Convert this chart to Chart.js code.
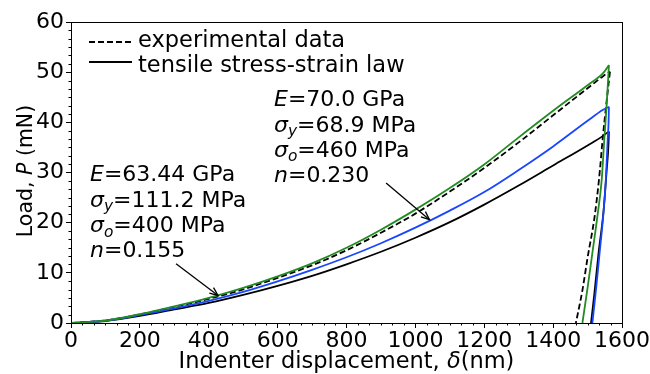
<!DOCTYPE html>
<html>
<head>
<meta charset="utf-8">
<script src="https://cdn.jsdelivr.net/npm/chart.js@4/dist/chart.umd.min.js"></script>
<style>
  html, body { margin: 0; padding: 0; background: #fff; }
  #wrap { width: 650px; height: 374px; position: relative; }
</style>
</head>
<body>
<div id="wrap"><canvas id="c" width="650" height="374"></canvas></div>
<script>
// ---- data ----
const loadDisp      = [0, 100, 200, 300, 400, 500, 600, 700, 800, 900, 1000, 1100, 1200, 1300, 1400, 1500, 1545];
const expLoad       = [0, 0.5, 1.7, 3.2, 4.8, 6.7, 9.0, 11.5, 14.5, 18.0, 21.8, 26.2, 30.9, 36.0, 41.4, 46.8, 49.2];
const greenLoad     = [0, 0.5, 1.75, 3.3, 5.0, 7.0, 9.3, 11.9, 15.0, 18.6, 22.6, 26.9, 31.6, 37.0, 42.3, 47.4, 49.8];
const blueLoad      = [0, 0.45, 1.6, 2.9, 4.4, 6.2, 8.3, 10.6, 13.1, 15.9, 19.0, 22.4, 26.1, 30.5, 35.2, 40.3, 42.5];
const blackLoad     = [0, 0.4, 1.4, 2.7, 4.0, 5.6, 7.4, 9.4, 11.7, 14.2, 17.0, 20.1, 23.6, 27.4, 31.4, 35.4, 37.3];

const expPeak   = [1565, 50.1];
const greenPeak = [1562, 51.4];
const bluePeak  = [1562, 43.1];
const blackPeak = [1562, 38.2];

const expUnloadDisp   = [1565, 1555, 1545, 1533, 1520, 1500, 1485, 1466];
const expUnload       = [50.1, 44.0, 37.5, 28.5, 21.0, 13.0, 6.5, 0];
const greenUnloadDisp = [1562, 1555, 1548, 1541, 1528, 1514, 1500, 1485];
const greenUnload     = [51.4, 43.0, 36.0, 28.5, 21.0, 14.0, 7.0, 0];
const blueUnloadDisp  = [1562, 1561, 1558, 1553, 1545, 1535, 1525, 1514];
const blueUnload      = [43.1, 40.0, 36.0, 28.5, 21.0, 14.0, 7.0, 0];
const blackUnloadDisp = [1562, 1561, 1555, 1546, 1532, 1520, 1510];
const blackUnload     = [38.2, 36.0, 30.0, 22.0, 14.0, 6.0, 0];

const xTicks = [0, 200, 400, 600, 800, 1000, 1200, 1400, 1600];
const yTicks = [0, 10, 20, 30, 40, 50, 60];

const legendLabels = ['experimental data', 'tensile stress-strain law'];
const annotation1 = [
  [['E', 1], ['=63.44 GPa', 0]],
  [['σ', 1], ['y', 2], ['=111.2 MPa', 0]],
  [['σ', 1], ['o', 2], ['=400 MPa', 0]],
  [['n', 1], ['=0.155', 0]]
];
const annotation2 = [
  [['E', 1], ['=70.0 GPa', 0]],
  [['σ', 1], ['y', 2], ['=68.9 MPa', 0]],
  [['σ', 1], ['o', 2], ['=460 MPa', 0]],
  [['n', 1], ['=0.230', 0]]
];
// arrow start/end in data units [disp, load]
const arrow1 = [[305, 11.8], [427, 5.5]];
const arrow2 = [[915, 27.9], [1041, 20.6]];

// ---- build datasets ----
function pts(xs, ys) { return xs.map((x, i) => ({ x: x, y: ys[i] })); }
const GREEN = '#228b22';
const BLUE = '#1846ff';
const FONT = "'DejaVu Sans', sans-serif";
const FS = 22;

function series(label, xs, ys, peak, uxs, uys, color, dash) {
  const common = { borderColor: color, borderWidth: 1.8, pointRadius: 0, fill: false, showLine: true,
                   cubicInterpolationMode: 'monotone', borderDash: dash || [] };
  return [
    Object.assign({ label: label + ' loading', data: pts(xs, ys).concat([{ x: peak[0], y: peak[1] }]) }, common),
    Object.assign({ label: label + ' unloading', data: pts(uxs, uys) }, common)
  ];
}

const datasets = [].concat(
  series('green', loadDisp, greenLoad, greenPeak, greenUnloadDisp, greenUnload, GREEN),
  series('blue', loadDisp, blueLoad, bluePeak, blueUnloadDisp, blueUnload, BLUE),
  series('black', loadDisp, blackLoad, blackPeak, blackUnloadDisp, blackUnload, '#000'),
  series('exp', loadDisp, expLoad, expPeak, expUnloadDisp, expUnload, '#000', [6, 3])
);

function drawRich(ctx, x, y, segs, size) {
  let cx = x;
  segs.forEach(([t, style]) => {
    const it = style >= 1;
    const sub = style === 2;
    const fs = sub ? size * 0.7 : size;
    ctx.font = (it ? 'italic ' : '') + fs + 'px ' + FONT;
    ctx.fillText(t, cx, sub ? y + size * 0.22 : y);
    cx += ctx.measureText(t).width;
  });
  return cx - x;
}
function richWidth(ctx, segs, size) {
  let w = 0;
  segs.forEach(([t, style]) => {
    const fs = style === 2 ? size * 0.7 : size;
    ctx.font = (style >= 1 ? 'italic ' : '') + fs + 'px ' + FONT;
    w += ctx.measureText(t).width;
  });
  return w;
}

const overlay = {
  id: 'overlay',
  afterDraw(chart) {
    const ctx = chart.ctx;
    const a = chart.chartArea;
    const xs = chart.scales.x, ys = chart.scales.y;
    ctx.save();
    // frame
    ctx.strokeStyle = '#000';
    ctx.lineWidth = 1;
    ctx.strokeRect(Math.round(a.left) + 0.5, Math.round(a.top) + 0.5, Math.round(a.right - a.left), Math.round(a.bottom - a.top));
    // minor ticks
    ctx.beginPath();
    for (let i = 0; i < xTicks.length - 1; i++) {
      for (let k = 1; k < 6; k++) {
        const v = xTicks[i] + (xTicks[i + 1] - xTicks[i]) * k / 6;
        const px = Math.round(xs.getPixelForValue(v)) + 0.5;
        ctx.moveTo(px, a.bottom); ctx.lineTo(px, a.bottom + 2.5);
      }
    }
    for (let i = 0; i < yTicks.length - 1; i++) {
      for (let k = 1; k < 6; k++) {
        const v = yTicks[i] + (yTicks[i + 1] - yTicks[i]) * k / 6;
        const py = Math.round(ys.getPixelForValue(v)) + 0.5;
        ctx.moveTo(a.left, py); ctx.lineTo(a.left - 2.5, py);
      }
    }
    ctx.stroke();

    ctx.fillStyle = '#000';
    ctx.textBaseline = 'alphabetic';
    ctx.textAlign = 'left';
    // legend
    ctx.lineWidth = 1.8;
    ctx.setLineDash([6, 3]);
    ctx.beginPath(); ctx.moveTo(89, 42); ctx.lineTo(132, 42); ctx.stroke();
    ctx.setLineDash([]);
    ctx.beginPath(); ctx.moveTo(89, 62); ctx.lineTo(132, 62); ctx.stroke();
    ctx.font = '22.5px ' + FONT;
    ctx.fillText(legendLabels[0], 138, 47);
    ctx.fillText(legendLabels[1], 138, 71.5);

    // annotations
    const base1 = [181, 206.5, 232, 257];
    annotation1.forEach((segs, i) => drawRich(ctx, 90, base1[i], segs, FS));
    const base2 = [106, 131.5, 156.5, 181.5];
    annotation2.forEach((segs, i) => drawRich(ctx, 274, base2[i], segs, FS));

    // arrows
    function arrow(p0, p1) {
      const x0 = xs.getPixelForValue(p0[0]), y0 = ys.getPixelForValue(p0[1]);
      const x1 = xs.getPixelForValue(p1[0]), y1 = ys.getPixelForValue(p1[1]);
      ctx.lineWidth = 1.3;
      ctx.beginPath(); ctx.moveTo(x0, y0); ctx.lineTo(x1, y1); ctx.stroke();
      const ang = Math.atan2(y1 - y0, x1 - x0);
      const L = 9, w = 0.4;
      ctx.beginPath();
      ctx.moveTo(x1 - L * Math.cos(ang - w), y1 - L * Math.sin(ang - w));
      ctx.lineTo(x1, y1);
      ctx.lineTo(x1 - L * Math.cos(ang + w), y1 - L * Math.sin(ang + w));
      ctx.stroke();
    }
    arrow(arrow1[0], arrow1[1]);
    arrow(arrow2[0], arrow2[1]);

    // axis titles
    const xt = [['Indenter displacement, ', 0], ['δ', 1], ['(nm)', 0]];
    const wx = richWidth(ctx, xt, 22.5);
    drawRich(ctx, (a.left + a.right) / 2 - wx / 2, 368, xt, 22.5);
    const yt = [['Load, ', 0], ['P', 1], [' (mN)', 0]];
    const wy = richWidth(ctx, yt, 20.5);
    ctx.translate(32, 171);
    ctx.rotate(-Math.PI / 2);
    drawRich(ctx, -wy / 2, 0, yt, 20.5);
    ctx.restore();
  }
};

new Chart(document.getElementById('c'), {
  type: 'line',
  data: { datasets: datasets },
  options: {
    responsive: false,
    animation: false,
    devicePixelRatio: 1,
    layout: { padding: { left: 0, top: 22, right: 27, bottom: 0 } },
    plugins: { legend: { display: false }, tooltip: { enabled: false } },
    scales: {
      x: {
        type: 'linear', min: 0, max: 1600,
        afterBuildTicks: s => { s.ticks = xTicks.map(v => ({ value: v })); },
        afterFit: s => { s.height = 51; },
        grid: { drawOnChartArea: false, drawTicks: true, tickLength: 5, color: '#000', tickWidth: 1 },
        border: { display: true, color: '#000', width: 1 },
        ticks: { color: '#000', font: { family: FONT, size: FS }, padding: 0, maxRotation: 0, autoSkip: false,
                 callback: v => String(v) }
      },
      y: {
        type: 'linear', min: 0, max: 60,
        afterBuildTicks: s => { s.ticks = yTicks.map(v => ({ value: v })); },
        afterFit: s => { s.width = 71; },
        grid: { drawOnChartArea: false, drawTicks: true, tickLength: 5, color: '#000', tickWidth: 1 },
        border: { display: true, color: '#000', width: 1 },
        ticks: { color: '#000', font: { family: FONT, size: FS }, padding: 2, autoSkip: false,
                 callback: v => String(v) }
      }
    }
  },
  plugins: [overlay]
});
</script>
</body>
</html>
